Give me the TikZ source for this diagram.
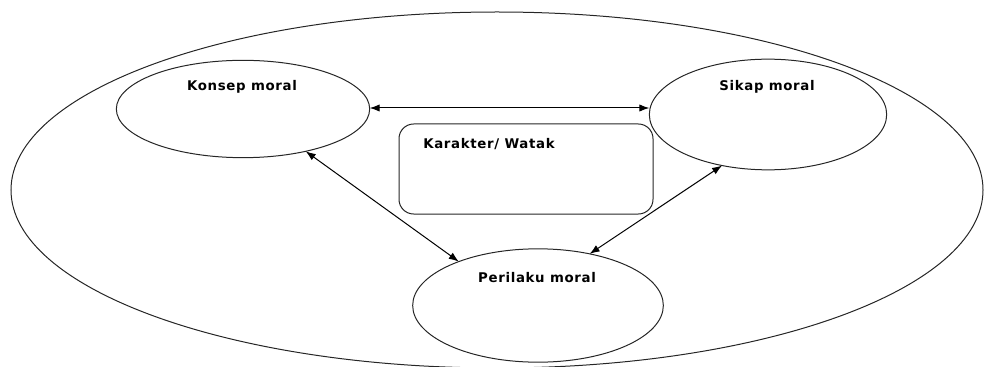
\documentclass[tikz,border=0pt]{standalone}
\usepackage{fontspec}
\newfontfamily\moralfont{DejaVu Sans}[LetterSpace=5]
\usetikzlibrary{shapes.geometric}
\usetikzlibrary{arrows.meta}

\begin{document}
\begin{tikzpicture}[x=0.75pt,y=-0.75pt,
  bubble/.style={ellipse,draw=black!85,line width=0.75pt,outer sep=0pt,inner sep=0pt},
  card/.style={rectangle,rounded corners=11pt,draw=black!85,line width=0.75pt,outer sep=0pt,inner sep=0pt},
  caption/.style={font=\moralfont\bfseries\fontsize{10}{12}\selectfont,inner sep=0pt},
  link/.style={{Latex[length=7.5pt,width=5.5pt]}-{Latex[length=7.5pt,width=5.5pt]},line width=0.75pt}]
\useasboundingbox (0,0) rectangle (984,367);

\node[bubble,minimum width=729pt,minimum height=267pt](outer) at (497,190) {};

\node[bubble,minimum width=190pt,minimum height=73pt](konsep) at (243,109) {};
\node[bubble,minimum width=178pt,minimum height=83pt](sikap) at (768,114.5) {};
\node[bubble,minimum width=188pt,minimum height=85pt](perilaku) at (538,305.5) {};
\node[card,minimum width=190.5pt,minimum height=67.5pt](karakter) at (526,169) {};

\node[caption](konseptxt) at (242,87) {Konsep moral};
\node[caption](sikaptxt) at (767,87) {Sikap moral};
\node[caption](perilakutxt) at (537,278) {Perilaku moral};
\node[caption,anchor=west](karaktertxt) at (423,144) {Karakter/ Watak};

\draw[link] (konsep.east |- 0,108) -- (sikap.west |- 0,108);
\draw[link] (konsep.-34.6) -- (perilaku.151.4);
\draw[link] (sikap.-132.6) -- (perilaku.45);

\end{tikzpicture}
\end{document}
